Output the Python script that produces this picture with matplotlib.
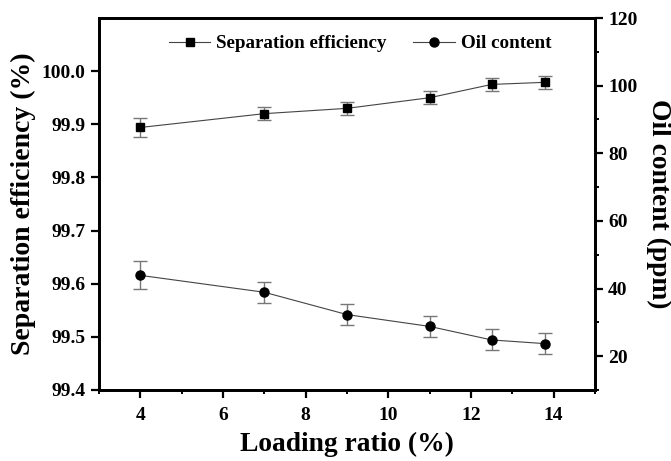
import numpy as np
import matplotlib.pyplot as plt
from matplotlib.ticker import MultipleLocator

plt.rcParams['font.family'] = ['Liberation Serif', 'DejaVu Serif']
plt.rcParams['font.weight'] = 'bold'

loading = [4, 7, 9, 11, 12.5, 13.8]
efficiency = [99.894, 99.920, 99.930, 99.950, 99.975, 99.979]
efficiency_err = [0.018, 0.012, 0.0125, 0.0125, 0.0125, 0.0125]
oil = [43.9, 38.9, 32.3, 28.8, 24.8, 23.7]
oil_err = [4.1, 3.1, 3.1, 3.1, 3.1, 3.1]

fig = plt.figure(figsize=(6.71, 4.61), dpi=100)
ax = fig.add_axes([99 / 671, 1 - 390 / 461, 496 / 671, 372 / 461])
ax2 = ax.twinx()

err_kw = dict(ecolor='#777777', elinewidth=1.0, capsize=5, capthick=1.0)
l1 = ax.errorbar(loading, efficiency, yerr=efficiency_err, fmt='-s', color='black',
                 lw=0.8, markersize=6, **err_kw)
l2 = ax2.errorbar(loading, oil, yerr=oil_err, fmt='-o', color='black',
                  lw=0.8, markersize=6.5, **err_kw)
for ln in (l1, l2):
    ln[0].set_color('#444444')
    ln[0].set_markerfacecolor('black')
    ln[0].set_markeredgecolor('black')

ax.set_xlim(3, 15)
ax.set_ylim(99.4, 100.1)
ax2.set_ylim(10, 120)

ax.set_xticks([4, 6, 8, 10, 12, 14])
ax.xaxis.set_minor_locator(MultipleLocator(1))
ax.set_yticks(np.arange(99.4, 100.01, 0.1))
ax.set_yticklabels([f'{v:.1f}' for v in np.arange(99.4, 100.01, 0.1)])
ax2.set_yticks([20, 40, 60, 80, 100, 120])
ax2.yaxis.set_minor_locator(MultipleLocator(10))

for a in (ax, ax2):
    for s in a.spines.values():
        s.set_linewidth(2)
    a.tick_params(which='major', direction='out', length=6, width=1.6, labelsize=14)
    a.tick_params(which='minor', direction='out', length=3, width=1.4)
ax.tick_params(axis='y', which='minor', left=False)
ax.tick_params(axis='x', pad=6)

ax.set_xlabel('Loading ratio (%)', fontsize=19.8, fontweight='bold', labelpad=6)
ax.set_ylabel('Separation efficiency (%)', fontsize=20, fontweight='bold', labelpad=4)
ax2.set_ylabel('Oil content (ppm)', fontsize=19.8, fontweight='bold',
               rotation=-90, labelpad=24)

ax.legend([l1[0], l2[0]], ['Separation efficiency', 'Oil content'], loc='upper center',
          ncol=2, frameon=False, fontsize=13.7, handlelength=2.2,
          columnspacing=1.4, handletextpad=0.3, bbox_to_anchor=(0.526, 1.0))

fig.savefig('out.png', dpi=100)
